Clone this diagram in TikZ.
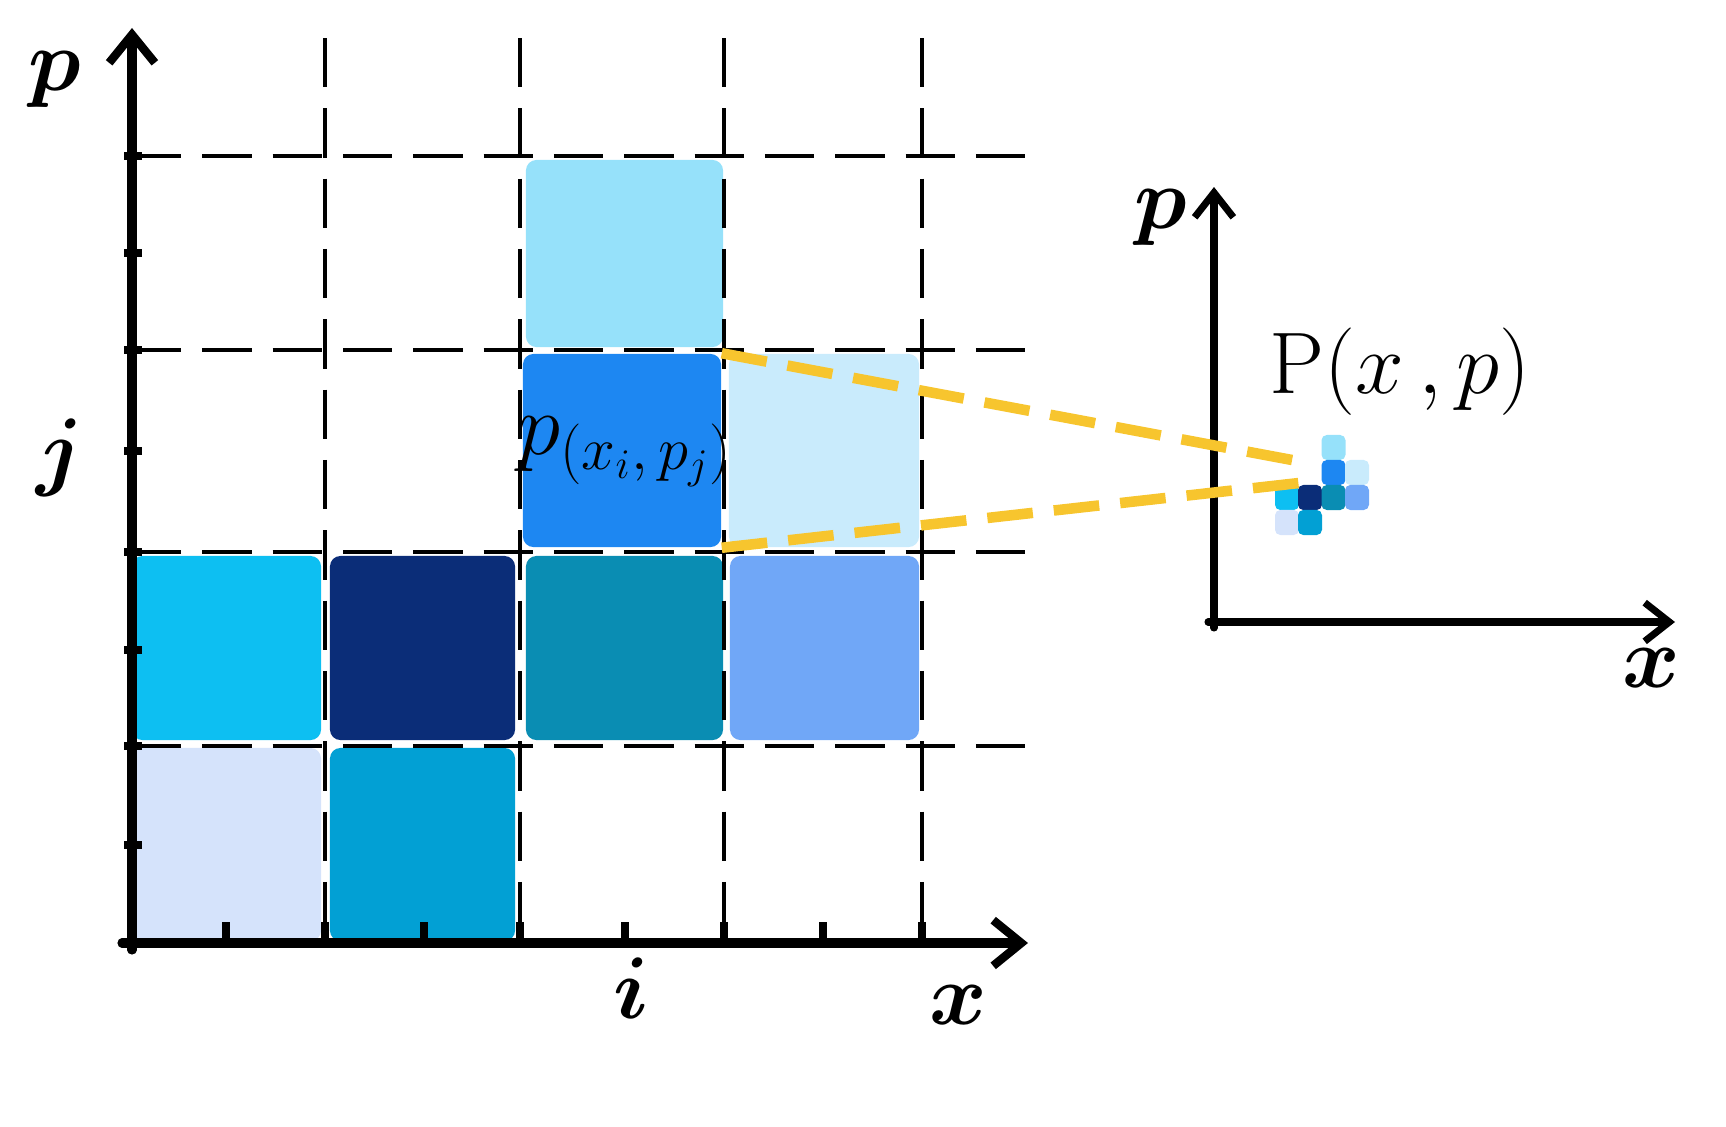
\documentclass[tikz,border=0pt]{standalone}
\usetikzlibrary{arrows.meta}
\definecolor{cTop}{HTML}{96E1FA}
\definecolor{cBlue}{HTML}{1D87F2}
\definecolor{cVlight}{HTML}{C9EBFC}
\definecolor{cCyan}{HTML}{0DBFF2}
\definecolor{cNavy}{HTML}{0B2D78}
\definecolor{cTeal}{HTML}{0A8DB3}
\definecolor{cPeri}{HTML}{70A7F7}
\definecolor{cPale}{HTML}{D5E3FB}
\definecolor{cCyanB}{HTML}{02A0D4}
\definecolor{cYellow}{HTML}{F7C52E}
\begin{document}
\begin{tikzpicture}[x=0.01cm,y=-0.01cm,
  cell/.style={inner sep=0pt, rounded corners=3pt, draw=none},
  mini/.style={inner sep=0pt, rounded corners=1.5pt, draw=none, minimum width=0.24cm, minimum height=0.25cm},
  gridline/.style={line width=1.4pt, dash pattern=on 14pt off 6pt},
  axis/.style={line width=2.6pt, line cap=round, -{Straight Barb[length=8pt,width=13pt,line width=2.4pt]}},
  smallaxis/.style={line width=2pt, line cap=round, -{Straight Barb[length=7pt,width=11pt,line width=2pt]}},
  tick/.style={line width=2.2pt},
  yel/.style={cYellow, line width=3pt, dash pattern=on 13pt off 6pt},
  lbl/.style={font=\fontsize{28}{30}\selectfont\boldmath},
]
\useasboundingbox (0,0) rectangle (1726,1127);
% cells of the main grid
\node[cell, fill=cTop,   minimum width=1.97cm, minimum height=1.87cm] (c13) at (624.5,253.5) {};
\node[cell, fill=cBlue,  minimum width=1.98cm, minimum height=1.93cm] (c23) at (622,450.5) {};
\node[cell, fill=cVlight,minimum width=1.90cm, minimum height=1.93cm] (c24) at (824,450.5) {};
\node[cell, fill=cCyan,  minimum width=1.89cm, minimum height=1.84cm] (c31) at (226.5,648) {};
\node[cell, fill=cNavy,  minimum width=1.85cm, minimum height=1.84cm] (c32) at (422.5,648) {};
\node[cell, fill=cTeal,  minimum width=1.97cm, minimum height=1.84cm] (c33) at (624.5,648) {};
\node[cell, fill=cPeri,  minimum width=1.89cm, minimum height=1.84cm] (c34) at (824.5,648) {};
\node[cell, fill=cPale,  minimum width=1.89cm, minimum height=1.93cm] (c41) at (226.5,844.5) {};
\node[cell, fill=cCyanB, minimum width=1.85cm, minimum height=1.93cm] (c42) at (422.5,844.5) {};
% dashed grid
\foreach \yy in {156,350,552,746} \draw[gridline] (132,\yy) -- (1030,\yy);
\foreach \xx in {325,520,724,922} \draw[gridline] (\xx,38) -- (\xx,943);
% main axes
\coordinate (O) at (132,943);
\coordinate (ytop) at (132,28);
\coordinate (xend) at (1028,943);
\draw[axis] (122,943) -- (xend);
\draw[axis] (132,950) -- (ytop);
\foreach \yy in {156,253,350,451,552,650,746,845} \draw[tick] (124,\yy) -- (142,\yy);
\foreach \xx in {226,325,424,520,625,724,823,922} \draw[tick] (\xx,943) -- (\xx,922);
% labels main
\node[lbl] (lp) at (55,80) {$p$};
\node[lbl, font=\fontsize{30}{32}\selectfont\boldmath] (lj) at (60,458) {$j$};
\node[lbl] (li) at (631,988) {$i$};
\node[lbl] (lx) at (958,1005) {$x$};
\node[font=\fontsize{23}{25}\selectfont] (lcell) at (625,452) {$p_{(x_i,\,p_j)}$};
% right small axes
\coordinate (O2) at (1214,622);
\coordinate (y2) at (1214,187);
\coordinate (x2) at (1675,622);
\draw[smallaxis] (1214,628) -- (y2);
\draw[smallaxis] (1208,622) -- (x2);
\node[lbl, font=\fontsize{26}{28}\selectfont\boldmath] (rp) at (1161,218) {$p$};
\node[lbl] (rx) at (1651,668) {$x$};
\node[font=\fontsize{26}{28}\selectfont] (P) at (1400,372) {$\mathrm{P}(x\,,p)$};
% mini cells
\node[mini, fill=cTop]    (m13) at (1333.5,447.5) {};
\node[mini, fill=cBlue]   (m23) at (1333.5,472.5) {};
\node[mini, fill=cVlight] (m24) at (1357,472.5) {};
\node[mini, fill=cCyan]   (m31) at (1287,497.5) {};
\node[mini, fill=cNavy]   (m32) at (1310,497.5) {};
\node[mini, fill=cTeal]   (m33) at (1333.5,497.5) {};
\node[mini, fill=cPeri]   (m34) at (1357,497.5) {};
\node[mini, fill=cPale]   (m41) at (1287,522.5) {};
\node[mini, fill=cCyanB]  (m42) at (1310,522.5) {};
% yellow projection lines
\coordinate (e1) at (1308,463);
\coordinate (e2) at (1308,482);
\draw[yel] (c23.north east) -- (e1);
\draw[yel] (c23.south east) -- (e2);
\end{tikzpicture}
\end{document}
